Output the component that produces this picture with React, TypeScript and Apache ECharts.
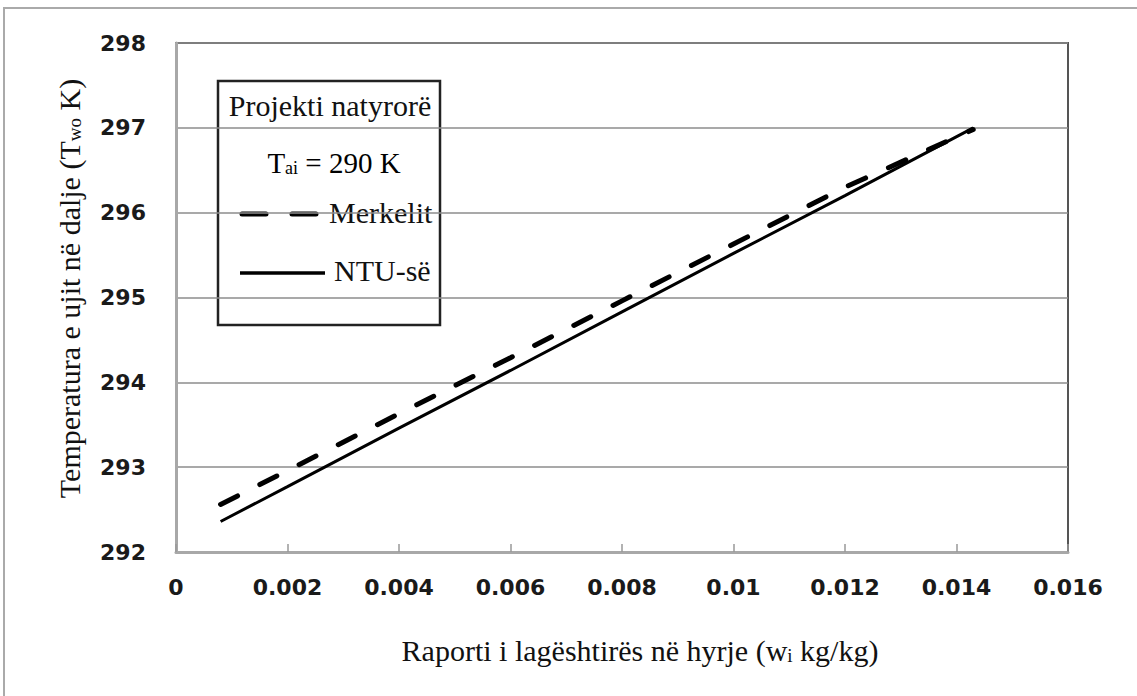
import React, { useEffect, useRef } from "react";
import * as echarts from "echarts";

// Inlet humidity ratio (kg/kg) at which both models were evaluated
const humidityRatio = [0.0008, 0.002, 0.004, 0.006, 0.008, 0.01, 0.012, 0.0143];
// Outlet water temperature (K), Merkel model
const merkelit = [292.56, 292.96, 293.63, 294.29, 294.96, 295.63, 296.3, 296.98];
// Outlet water temperature (K), NTU model
const ntu = [292.36, 292.77, 293.46, 294.14, 294.83, 295.52, 296.2, 297.0];

const xTicks = ["0", "0.002", "0.004", "0.006", "0.008", "0.01", "0.012", "0.014", "0.016"];
const yMin = 292;
const yMax = 298;

const SERIF = "'Liberation Serif', 'Times New Roman', serif";
const SANS = "'DejaVu Sans', Verdana, sans-serif";

export default function App() {
  const ref = useRef<HTMLDivElement>(null);

  useEffect(() => {
    if (!ref.current) return;
    const chart = echarts.init(ref.current, null, { renderer: "svg" });

    const pair = (ys: number[]) => humidityRatio.map((x, i) => [x, ys[i]]);

    const titleRich = {
      m: { fontFamily: SERIF, fontSize: 30, color: "#111", lineHeight: 35, verticalAlign: "bottom" },
      s: { fontFamily: SERIF, fontSize: 19, color: "#111", lineHeight: 19, verticalAlign: "bottom" },
    };
    const legendRich = {
      m: { fontFamily: SERIF, fontSize: 29, color: "#111", lineHeight: 34, verticalAlign: "bottom" },
      s: { fontFamily: SERIF, fontSize: 18, color: "#111", lineHeight: 18, verticalAlign: "bottom" },
    };

    chart.setOption({
      animation: false,
      backgroundColor: "#ffffff",
      grid: {
        left: 176,
        top: 43,
        right: 69,
        bottom: 144,
        show: true,
        borderColor: "#555",
        borderWidth: 2,
        backgroundColor: "transparent",
      },
      xAxis: {
        type: "value",
        min: 0,
        max: 0.016,
        interval: 0.002,
        axisLine: { show: true, onZero: false, lineStyle: { color: "#a8a8a8", width: 3 } },
        axisTick: { show: true, inside: true, length: 8, lineStyle: { color: "#999", width: 1.5 } },
        splitLine: { show: false },
        axisLabel: {
          margin: 24,
          fontFamily: SANS,
          fontWeight: "bold",
          fontSize: 22,
          color: "#1a1a1a",
          formatter: (v: number) => xTicks[Math.round(v / 0.002)] ?? "",
        },
        name: "{m|Raporti i lagështirës në hyrje (w}{s|i}{m| kg/kg)}",
        nameLocation: "middle",
        nameGap: 78,
        nameTextStyle: { rich: titleRich, padding: [0, 0, 0, 36] },
      },
      yAxis: {
        type: "value",
        min: yMin,
        max: yMax,
        interval: 1,
        axisLine: { show: true, lineStyle: { color: "#a8a8a8", width: 3 } },
        axisTick: { show: false },
        splitLine: { show: true, lineStyle: { color: "#8c8c8c", width: 1.5 } },
        axisLabel: {
          margin: 30,
          fontFamily: SANS,
          fontWeight: "bold",
          fontSize: 22,
          color: "#1a1a1a",
        },
        name: "{m|Temperatura e ujit në dalje (T}{s|wo}{m| K)}",
        nameLocation: "middle",
        nameRotate: 90,
        nameGap: 92,
        nameTextStyle: { rich: titleRich, padding: [0, 0, 0, 18] },
      },
      series: [
        {
          name: "Merkelit",
          type: "line",
          data: pair(merkelit),
          showSymbol: false,
          lineStyle: { color: "#000", width: 5, type: [19, 25], cap: "round" },
          z: 3,
        },
        {
          name: "NTU-së",
          type: "line",
          data: pair(ntu),
          showSymbol: false,
          lineStyle: { color: "#000", width: 3 },
          z: 4,
        },
      ],
      graphic: [
        // outer chart frame
        {
          type: "rect",
          shape: { x: 4, y: 8, width: 1200, height: 800 },
          style: { fill: "none", stroke: "#aaaaaa", lineWidth: 2 },
          silent: true,
          z: 0,
        },
        // legend box
        {
          type: "group",
          z: 10,
          children: [
            {
              type: "rect",
              shape: { x: 218, y: 81, width: 222, height: 244 },
              style: { fill: "#ffffff", stroke: "#222", lineWidth: 2.5 },
            },
            {
              type: "text",
              x: 330,
              y: 105,
              style: {
                text: "Projekti natyrorë",
                fontFamily: SERIF,
                fontSize: 30,
                fill: "#111",
                align: "center",
                verticalAlign: "middle",
              },
            },
            {
              type: "text",
              x: 334,
              y: 160,
              style: {
                text: "{m|T}{s|ai}{m| = 290 K}",
                rich: legendRich,
                align: "center",
                verticalAlign: "middle",
              },
            },
            {
              type: "line",
              shape: { x1: 242, y1: 214, x2: 318, y2: 214 },
              style: { stroke: "#000", lineWidth: 5, lineDash: [24, 26], lineCap: "round" },
            },
            {
              type: "text",
              x: 329,
              y: 212,
              style: {
                text: "Merkelit",
                fontFamily: SERIF,
                fontSize: 30,
                fill: "#111",
                align: "left",
                verticalAlign: "middle",
              },
            },
            {
              type: "line",
              shape: { x1: 240, y1: 273, x2: 325, y2: 273 },
              style: { stroke: "#000", lineWidth: 3.5 },
            },
            {
              type: "text",
              x: 334,
              y: 270,
              style: {
                text: "NTU-së",
                fontFamily: SERIF,
                fontSize: 30,
                fill: "#111",
                align: "left",
                verticalAlign: "middle",
              },
            },
          ],
        },
      ],
    });

    return () => chart.dispose();
  }, []);

  return (
    <div
      ref={ref}
      style={{ position: "absolute", left: 0, top: 0, width: 1137, height: 696, background: "#fff" }}
    />
  );
}
